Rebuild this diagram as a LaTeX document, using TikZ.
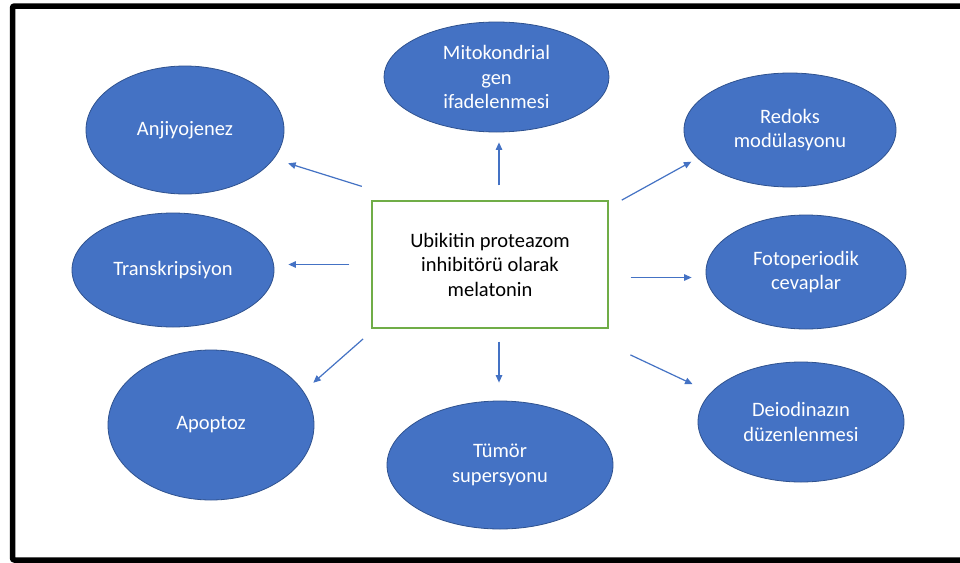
\documentclass[tikz,border=0pt]{standalone}
\usepackage{fontspec}
\setmainfont{Carlito}
\usetikzlibrary{shapes.geometric,arrows.meta}
\definecolor{obl}{HTML}{4472C4}
\definecolor{obd}{HTML}{2F528F}
\definecolor{ogr}{HTML}{70AD47}
\begin{document}
\begin{tikzpicture}[x=1pt,y=-1pt,
  bub/.style={ellipse, fill=obl, draw=obd, line width=0.8pt, text=white, align=center,
    inner sep=0pt, font=\fontsize{20.5}{24.5}\selectfont},
  hub/.style={draw=ogr, line width=1.3pt, align=center, inner sep=0pt,
    font=\fontsize{20.5}{24.5}\selectfont},
  arr/.style={draw=obl, line width=1.2pt, -{Triangle[length=7.5pt,width=6.5pt]}},
  frame/.style={line width=5.5pt, rounded corners=2pt}
]
\useasboundingbox (0,0) rectangle (960,562);
\clip (0,0) rectangle (960,562);
\fill[white] (0,0) rectangle (960,562);
\draw[frame] (12.5,6) rectangle (985,560);

\node[hub, minimum width=236pt, minimum height=127pt] (box) at (490,264.5)
  {Ubikitin proteazom\\inhibitörü olarak\\melatonin};

\node[bub, minimum width=225pt, minimum height=110pt] (mi) at (496.5,77) {Mitokondrial\\gen\\ifadelenmesi};
\node[bub, minimum width=212pt, minimum height=114pt] (rd) at (790,130) {Redoks\\modülasyonu};
\node[bub, minimum width=198pt, minimum height=128pt] (anj) at (185,130) {Anjiyojenez};
\node[bub, minimum width=202pt, minimum height=114pt] (tr) at (173,270) {Transkripsiyon};
\node[bub, minimum width=200pt, minimum height=114pt] (fo) at (806,272) {Fotoperiodik\\cevaplar};
\node[bub, minimum width=206pt, minimum height=150pt] (apo) at (211,425) {Apoptoz};
\node[bub, minimum width=226pt, minimum height=128pt] (tu) at (500,465) {Tümör\\supersyonu};
\node[bub, minimum width=206pt, minimum height=120pt] (de) at (801,422) {Deiodinazın\\düzenlenmesi};

\coordinate (u0) at ([xshift=9pt]box.north);
\coordinate (d0) at ([xshift=9pt]box.south);
\coordinate (f0) at ([yshift=-13pt]box.east);
\coordinate (a0) at ([yshift=11pt]box.north west);
\coordinate (r0) at ([yshift=-7pt]box.north east);
\coordinate (e0) at ([yshift=-16pt]box.south east);
\coordinate (p0) at ([yshift=-3pt]box.south west);

\draw[arr, shorten <=15pt, shorten >=10pt] (u0) -- (u0 |- mi.south);
\draw[arr, shorten <=13pt, shorten >=18pt] (d0) -- (d0 |- tu.north);
\draw[arr, shorten <=22pt, shorten >=14pt] (box.west) -- (box.west -| tr.east);
\draw[arr, shorten <=22pt, shorten >=14pt] (f0) -- (f0 -| fo.west);
\draw[arr, shorten <=10pt, shorten >=15pt] (a0) -- (anj.342);
\draw[arr, shorten <=11pt, shorten >=13pt] (p0) -- (apo.20);
\draw[arr, shorten <=15pt, shorten >=7pt] (r0) -- (rd.197);
\draw[arr, shorten <=24pt, shorten >=20pt] (e0) -- (de.162);
\end{tikzpicture}
\end{document}
